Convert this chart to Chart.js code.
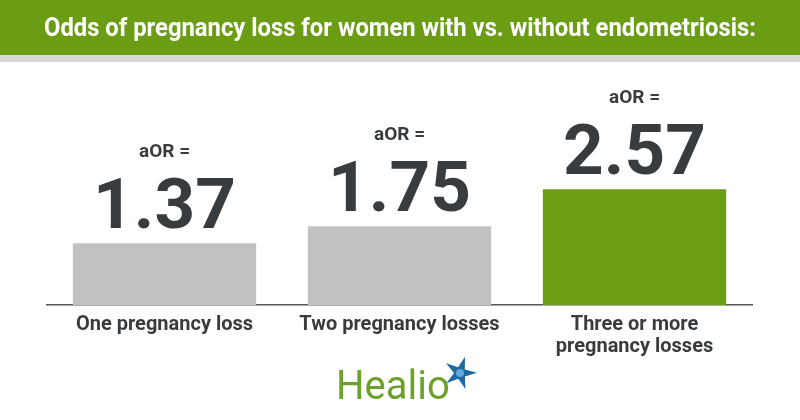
<!DOCTYPE html>
<html>
<head>
<meta charset="utf-8">
<script src="https://cdn.jsdelivr.net/npm/chart.js@4"></script>
<style>
  html, body { margin: 0; padding: 0; background: #fff; }
  #wrap { width: 800px; height: 420px; position: relative; }
</style>
</head>
<body>
<div id="wrap"><canvas id="oddsChart" width="800" height="420"></canvas></div>
<script>
const categories = ["One pregnancy loss", "Two pregnancy losses", ["Three or more", "pregnancy losses"]];
const aorValues = [1.37, 1.75, 2.57];
const valueLabels = ["1.37", "1.75", "2.57"];
const barColors = ["#c1c1c1", "#c1c1c1", "#6b9e12"];
const titleText = "Odds of pregnancy loss for women with vs. without endometriosis:";

const textDark = "#383c3e";

// green header band + grey strip + title (squeezed to look condensed)
const headerPlugin = {
  id: "header",
  beforeDraw(chart) {
    const ctx = chart.ctx;
    ctx.save();
    ctx.fillStyle = "#6a9c14";
    ctx.fillRect(0, 0, chart.width, 55);
    ctx.fillStyle = "#d9d9d9";
    ctx.fillRect(0, 55, chart.width, 7);
    ctx.fillStyle = "#ffffff";
    ctx.font = "bold 25px Roboto, sans-serif";
    ctx.textAlign = "center";
    ctx.textBaseline = "middle";
    const w = ctx.measureText(titleText).width;
    const sx = Math.min(1, 712 / w);
    ctx.translate(chart.width / 2, 30);
    ctx.scale(sx, 1);
    ctx.fillText(titleText, 0, 0);
    ctx.restore();
  },
};

// "aOR =" and big value above each bar
const valuePlugin = {
  id: "values",
  afterDatasetsDraw(chart) {
    const ctx = chart.ctx;
    const meta = chart.getDatasetMeta(0);
    ctx.save();
    ctx.fillStyle = textDark;
    ctx.textAlign = "center";
    ctx.textBaseline = "alphabetic";
    meta.data.forEach((bar, i) => {
      ctx.font = "bold 71px Roboto, sans-serif";
      ctx.fillText(valueLabels[i], bar.x, bar.y - 15);
      ctx.font = "bold 19px Roboto, sans-serif";
      ctx.fillText("aOR =", bar.x, bar.y - 86);
    });
    ctx.restore();
  },
};

// Healio logo at the bottom
const logoPlugin = {
  id: "logo",
  afterDraw(chart) {
    const ctx = chart.ctx;
    ctx.save();
    ctx.fillStyle = "#6da22a";
    ctx.font = "40px Roboto, sans-serif";
    ctx.textAlign = "left";
    ctx.textBaseline = "alphabetic";
    ctx.fillText("Healio", 336, 399);
    // star mark
    const cx = 460, cy = 373;
    ctx.fillStyle = "#1d6aa3";
    ctx.beginPath();
    const pts = 5;
    for (let k = 0; k < pts * 2; k++) {
      const r = k % 2 === 0 ? 17 : 6;
      const a = -Math.PI / 2 + 0.3 + (k * Math.PI) / pts;
      const px = cx + r * Math.cos(a);
      const py = cy + r * Math.sin(a);
      if (k === 0) ctx.moveTo(px, py);
      else ctx.lineTo(px, py);
    }
    ctx.closePath();
    ctx.fill();
    ctx.fillStyle = "#5fa8d8";
    ctx.beginPath();
    ctx.arc(cx, cy, 4, 0, Math.PI * 2);
    ctx.fill();
    ctx.restore();
  },
};

const oddsCtx = document.getElementById("oddsChart").getContext("2d");

const oddsChart = new Chart(oddsCtx, {
  type: "bar",
  data: {
    labels: categories,
    datasets: [
      {
        label: "aOR",
        data: aorValues,
        backgroundColor: barColors,
        borderWidth: 0,
        categoryPercentage: 1,
        barPercentage: 0.78,
      },
    ],
  },
  options: {
    responsive: false,
    animation: false,
    layout: {
      padding: { left: 47, right: 48, top: 80, bottom: 61 },
    },
    scales: {
      x: {
        grid: { display: false },
        border: { display: true, color: "#555555", width: 1.5 },
        ticks: {
          color: textDark,
          padding: 1,
          maxRotation: 0,
          autoSkip: false,
          font: { family: "Roboto, sans-serif", size: 20, weight: "bold", lineHeight: 1.1 },
        },
      },
      y: {
        display: false,
        min: 0,
        max: 5,
      },
    },
    plugins: {
      legend: { display: false },
      tooltip: { enabled: false },
    },
  },
  plugins: [headerPlugin, valuePlugin, logoPlugin],
});
</script>
</body>
</html>
